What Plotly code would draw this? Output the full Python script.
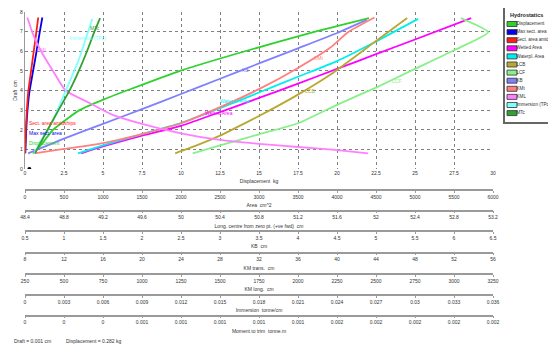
import plotly.graph_objects as go

# ---------------- data ----------------
disp_draft = [0.8, 1.2, 2.0, 3.0, 3.55, 4.05, 5.0, 6.0, 7.0, 7.69]
disp_kg = [0.5, 1.0, 1.8, 3.5, 5.06, 6.7, 9.94, 14.1, 18.6, 22.05]

maxsect_draft = [0.8, 2.0, 3.0, 3.91, 5.0, 6.0, 7.0, 7.72]
maxsect_cm2 = [4, 16, 32, 56, 104, 148, 190, 222]

amid_draft = [0.8, 2.0, 3.0, 3.94, 5.0, 6.0, 7.0, 7.72]
amid_cm2 = [0, 10, 24, 42, 78, 112, 146, 170]

wetted_draft = [0.8, 1.15, 1.7, 2.2, 2.9, 3.62, 4.35, 5.1, 5.85, 6.6, 7.69]
wetted_cm2 = [720, 1000, 1500, 2000, 2500, 3000, 3500, 4000, 4500, 5000, 5720]

wpl_draft = [0.8, 1.2, 1.78, 2.34, 3.1, 3.9, 4.7, 5.5, 6.5, 7.65]
wpl_cm2 = [680, 1000, 1500, 2000, 2500, 3000, 3500, 4000, 4500, 5040]

lcb_draft = [0.8, 1.2, 1.7, 2.07, 2.7, 3.79, 4.8, 6.52, 7.69]
lcb_cm = [49.94, 50.16, 50.4, 50.55, 50.8, 51.2, 51.53, 52.0, 52.32]

lcf_draft = [0.8, 1.2, 1.77, 2.33, 3.27, 4.15, 5.1, 6.05, 6.97, 7.69]
lcf_cm = [50.12, 50.4, 50.8, 51.2, 51.6, 52.0, 52.4, 52.8, 53.15, 52.87]

kb_draft = [0.8, 1.55, 2.3, 3.05, 3.82, 4.6, 5.38, 6.15, 6.93, 7.6]
kb_cm = [0.54, 1.0, 1.5, 2.0, 2.5, 3.0, 3.5, 4.0, 4.5, 4.88]

kmt_draft = [0.8, 1.02, 1.32, 1.78, 2.33, 3.15, 4.07, 5.15, 6.2, 6.97, 7.72]
kmt_cm = [8.96, 12, 16, 20, 24, 28, 32, 36, 39.36, 41.12, 43.84]

kml_draft = [0.8, 0.97, 1.12, 1.28, 1.48, 1.82, 2.3, 2.8, 3.35, 4.0, 4.96, 6.1, 6.9, 7.72]
kml_cm = [2450, 2237, 2000, 1750, 1500, 1250, 1000, 800, 667, 510, 432, 346, 300, 265]

tpc_draft = [0.8, 1.2, 1.78, 2.34, 3.1, 3.9, 4.7, 5.5, 6.5, 7.65]
tpc_t = [0.0007, 0.00103, 0.00154, 0.00205, 0.00256, 0.00308, 0.00359, 0.0041, 0.00461, 0.00517]

mtc_draft = [0.8, 2.0, 3.0, 4.03, 5.0, 6.0, 7.0, 7.69]
mtc_tm = [0.0000512, 0.000116, 0.000172, 0.00023, 0.000276, 0.000318, 0.000356, 0.000385]

cur_draft = 0.001
cur_disp = 0.282

# tick labels of the stacked scales
disp_ticks = [0, 2.5, 5, 7.5, 10, 12.5, 15, 17.5, 20, 22.5, 25, 27.5, 30]
disp_text = ["0", "2.5", "5", "7.5", "10", "12.5", "15", "17.5", "20", "22.5", "25", "27.5", "30"]
area_ticks = [0, 500, 1000, 1500, 2000, 2500, 3000, 3500, 4000, 4500, 5000, 5500, 6000]
long_ticks = [48.4, 48.8, 49.2, 49.6, 50, 50.4, 50.8, 51.2, 51.6, 52, 52.4, 52.8, 53.2]
kb_ticks = [0.5, 1, 1.5, 2, 2.5, 3, 3.5, 4, 4.5, 5, 5.5, 6, 6.5]
kmt_ticks = [8, 12, 16, 20, 24, 28, 32, 36, 40, 44, 48, 52, 56]
kml_ticks = [250, 500, 750, 1000, 1250, 1500, 1750, 2000, 2250, 2500, 2750, 3000, 3250]
tpc_ticks = [0, 0.003, 0.006, 0.009, 0.012, 0.015, 0.018, 0.021, 0.024, 0.027, 0.03, 0.033, 0.036]
mtc_ticks = [0, 0.0002, 0.0004, 0.0006, 0.0008, 0.001, 0.0012, 0.0014, 0.0016, 0.0018, 0.002, 0.0022, 0.0024]
mtc_text = ["0", "0", "0", "0.001", "0.001", "0.001", "0.001", "0.001", "0.002", "0.002", "0.002", "0.002", "0.002"]
draft_ticks = [0, 1, 2, 3, 4, 5, 6, 7, 8]

legend_names = ["Displacement", "Max sect. area", "Sect. area amidships", "Wetted Area",
                "Waterpl. Area", "LCB", "LCF", "KB", "KMt", "KML", "Immersion (TPc)", "MTc"]
legend_colors = ["#2ed12e", "#0000ee", "#ff1a1a", "#ff00ff", "#00eeee", "#b8a832",
                 "#88f088", "#8080ff", "#ff8080", "#ff80ff", "#80ffff", "#33a033"]

FONT = "Liberation Sans Narrow, Liberation Sans, Arial, sans-serif"
GRID = "#808080"
AXC = "#9a9a9a"

fig = go.Figure()

series = [
    ("Displacement", "x", disp_kg, disp_draft),
    ("Max sect. area", "x2", maxsect_cm2, maxsect_draft),
    ("Sect. area amidships", "x2", amid_cm2, amid_draft),
    ("Wetted Area", "x2", wetted_cm2, wetted_draft),
    ("Waterpl. Area", "x2", wpl_cm2, wpl_draft),
    ("LCB", "x3", lcb_cm, lcb_draft),
    ("LCF", "x3", lcf_cm, lcf_draft),
    ("KB", "x4", kb_cm, kb_draft),
    ("KMt", "x5", kmt_cm, kmt_draft),
    ("KML", "x6", kml_cm, kml_draft),
    ("Immersion (TPc)", "x7", tpc_t, tpc_draft),
    ("MTc", "x8", mtc_tm, mtc_draft),
]
for (name, xa, xs, ys) in series:
    col = legend_colors[legend_names.index(name)]
    fig.add_trace(go.Scatter(x=xs, y=ys, mode="lines", name=name, xaxis=xa, yaxis="y",
                             line=dict(color=col, width=1.8, shape="spline", smoothing=0.5),
                             showlegend=False))

fig.add_trace(go.Scatter(x=[cur_disp], y=[cur_draft], mode="markers", xaxis="x", yaxis="y",
                         marker=dict(color="black", size=4), showlegend=False))

# legend drawn as a tiny subplot
rows = list(range(len(legend_names)))
fig.add_trace(go.Bar(x=[10] * len(rows), base=[2] * len(rows), y=rows, orientation="h",
                     width=0.62, xaxis="x9", yaxis="y2", showlegend=False, hoverinfo="skip",
                     marker=dict(color=legend_colors, line=dict(color="#333", width=0.8))))
fig.add_trace(go.Scatter(x=[11.5] * len(rows), y=rows, mode="text", text=legend_names,
                         textposition="middle right", xaxis="x9", yaxis="y2", showlegend=False,
                         textfont=dict(size=4.6, color="#333", family=FONT), hoverinfo="skip"))

# ---------------- layout ----------------
# the page body has an 8px margin, so screen pixel p sits at figure pixel p - OFF
OFF = 8
W, H = 556 - OFF, 347 - OFF
ML, MT = 25 - OFF, 0
MR = 0
MB = H - (319 - OFF)
pw = W - ML - MR
ph = H - MT - MB


def py2p(py):
    return (H - MB - (py - OFF)) / ph


def px2p(px):
    return (px - OFF - ML) / pw


xd_end = px2p(493)

tickf = dict(size=5, color="#333", family=FONT)
titf = dict(size=5, color="#333", family=FONT)

layout = dict(
    width=W, height=H,
    margin=dict(l=ML, r=MR, t=MT, b=MB, autoexpand=False),
    paper_bgcolor="white", plot_bgcolor="white",
    font=dict(family=FONT, size=5, color="#333"),
    showlegend=False,
    xaxis=dict(domain=[0, xd_end], range=[0, 30], tickvals=disp_ticks, ticktext=disp_text,
               showgrid=True, gridcolor=GRID, griddash="dot", gridwidth=1, zeroline=False,
               showline=False, ticks="", tickfont=tickf, automargin=False,
               title=dict(text="Displacement  kg", font=titf, standoff=4)),
    yaxis=dict(domain=[py2p(169), py2p(12)], range=[0, 8], tickvals=draft_ticks,
               showgrid=True, gridcolor=GRID, griddash="dot", gridwidth=1, zeroline=False,
               showline=True, linecolor=AXC, linewidth=1.2, ticks="", tickfont=tickf,
               automargin=False, title=dict(text="Draft  cm", font=titf, standoff=2)),
    xaxis9=dict(domain=[px2p(505), 1], range=[0, 51], anchor="y2", showgrid=False,
                zeroline=False, showticklabels=False, showline=True, mirror=True,
                linecolor="#666", linewidth=1.5, fixedrange=True, automargin=False),
    yaxis2=dict(domain=[py2p(122), 1], range=[12.1, -1.975], anchor="x9", showgrid=False,
                zeroline=False, showticklabels=False, showline=True, linecolor="#666",
                linewidth=1.5, fixedrange=True, automargin=False),
)

extra = [
    ("xaxis2", 190, [0, 6000], area_ticks, [str(v) for v in area_ticks], "Area  cm^2"),
    ("xaxis3", 210.7, [48.4, 53.2], long_ticks, [f"{v:g}" for v in long_ticks],
     "Long. centre from zero pt. (+ve fwd)  cm"),
    ("xaxis4", 231, [0.5, 6.5], kb_ticks, [f"{v:g}" for v in kb_ticks], "KB  cm"),
    ("xaxis5", 252.7, [8, 56], kmt_ticks, [str(v) for v in kmt_ticks], "KM trans.  cm"),
    ("xaxis6", 274, [250, 3250], kml_ticks, [str(v) for v in kml_ticks], "KM long.  cm"),
    ("xaxis7", 295, [0, 0.036], tpc_ticks, [f"{v:g}" for v in tpc_ticks], "Immersion  tonne/cm"),
    ("xaxis8", 315.7, [0, 0.0024], mtc_ticks, mtc_text, "Moment to trim  tonne.m"),
]
for (key, py, rng, tv, tt, title) in extra:
    layout[key] = dict(overlaying="x", anchor="free", position=py2p(py), domain=[0, xd_end],
                       range=rng, tickvals=tv, ticktext=tt, side="bottom", showgrid=False,
                       zeroline=False, showline=True, linecolor=AXC, linewidth=1.5,
                       ticks="outside", ticklen=2, tickcolor=AXC, tickfont=tickf,
                       automargin=False, title=dict(text=title, font=titf, standoff=4))

fig.update_layout(**layout)

# curve labels
labels = [
    ("Displacement", 0.1, 1.3), ("Sect. area amidships", 0.1, 2.36), ("Max sect. area", 0.1, 1.85),
    ("KML", 0.64, 6.07), ("Immersion (TPc)", 2.7, 6.67), ("MTc", 4.04, 7.2), ("KB", 13.8, 5.05),
    ("Waterpl. Area", 12.4, 3.49), ("Wetted Area", 11.4, 2.87), ("KMt", 18.4, 5.65),
    ("LCB", 17.8, 4.0), ("LCF", 23.4, 4.5),
]
for (txt, lx, ly) in labels:
    fig.add_annotation(x=lx, y=ly, xref="x", yref="y", text=txt, showarrow=False,
                       xanchor="left", yanchor="middle",
                       font=dict(size=5, color=legend_colors[legend_names.index(txt)], family=FONT))

fig.add_annotation(x=3, y=-1.11, xref="x9", yref="y2", text="<b>Hydrostatics</b>", showarrow=False,
                   xanchor="left", yanchor="middle", font=dict(size=5.5, color="#222", family=FONT))

fig.add_annotation(x=px2p(12), y=py2p(341), xref="paper", yref="paper",
                   text=f"Draft = {cur_draft:g} cm", showarrow=False, xanchor="left",
                   yanchor="middle", font=dict(size=5, color="#333", family=FONT))
fig.add_annotation(x=px2p(64), y=py2p(341), xref="paper", yref="paper",
                   text=f"Displacement = {cur_disp:g} kg", showarrow=False, xanchor="left",
                   yanchor="middle", font=dict(size=5, color="#333", family=FONT))

fig.write_html("out.html")
